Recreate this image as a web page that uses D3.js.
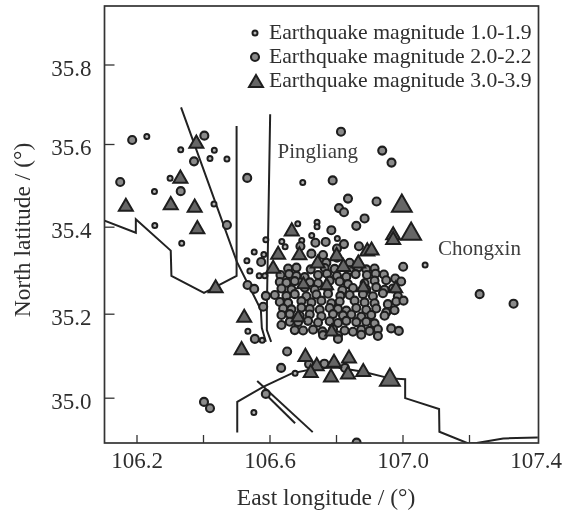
<!DOCTYPE html>
<html>
<head>
<meta charset="utf-8">
<style>
  html, body { margin: 0; padding: 0; background: #fff; }
  svg { display: block; filter: blur(0.45px); }
  text { font-family: "Liberation Serif", serif; fill: #2e2e2e; }
</style>
<script src="https://cdn.jsdelivr.net/npm/d3@7/dist/d3.min.js"></script>
</head>
<body>
<div id="chart"></div>
<script>
// Epicentres around Pingliang / Chongxin as [lon, lat]

const lonTicks = [106.2, 106.4, 106.6, 106.8, 107.0, 107.2, 107.4];
const lonLabels = [106.2, 106.6, 107.0, 107.4];
const latTicks = [35.0, 35.2, 35.4, 35.6, 35.8];

const legendLabels = [
  "Earthquake magnitude 1.0-1.9",
  "Earthquake magnitude 2.0-2.2",
  "Earthquake magnitude 3.0-3.9",
];

const smallQuakes = [
  [106.231, 35.619], [106.333, 35.586], [106.434, 35.585], [106.421, 35.565],
  [106.472, 35.564], [106.301, 35.517], [106.254, 35.485], [106.433, 35.455],
  [106.255, 35.403], [106.336, 35.362], [106.589, 35.370], [106.554, 35.342],
  [106.583, 35.336], [106.532, 35.322], [106.541, 35.298], [106.569, 35.287],
  [106.586, 35.287], [106.535, 35.158], [106.578, 35.137], [106.553, 34.965],
  [106.677, 35.058], [106.700, 35.507], [106.743, 35.411], [106.743, 35.400],
  [106.685, 35.407], [107.068, 35.312], [106.727, 35.380], [106.804, 35.373],
  [106.697, 35.368], [106.637, 35.366], [106.647, 35.354],
];

const mediumQuakes = [
  // scattered
  [106.187, 35.610], [106.404, 35.621], [106.373, 35.558], [106.151, 35.508],
  [106.333, 35.486], [106.472, 35.404], [106.533, 35.518], [106.575, 35.319],
  [106.534, 35.266], [106.554, 35.257], [106.589, 35.241], [106.581, 35.216],
  [106.556, 35.140], [106.653, 35.110], [106.635, 35.071], [106.589, 35.009],
  [106.719, 35.080], [106.765, 35.081], [106.827, 35.071], [106.403, 34.990],
  [106.421, 34.975], [106.862, 34.893], [106.790, 35.512], [106.836, 35.468],
  [106.809, 35.445], [106.824, 35.435], [106.922, 35.461], [106.886, 35.420],
  [106.861, 35.402], [106.786, 35.392], [106.815, 35.631], [106.939, 35.584],
  [106.967, 35.555], [107.232, 35.245], [107.334, 35.223], [107.002, 35.308],
  [106.636, 35.173],
  // main cluster
  [106.738, 35.363], [106.769, 35.365], [106.824, 35.360], [106.869, 35.355],
  [106.693, 35.355], [106.726, 35.338], [106.761, 35.335], [106.803, 35.350],
  [106.803, 35.329], [106.841, 35.317], [106.771, 35.317],
  [106.656, 35.304], [106.681, 35.306], [106.724, 35.302], [106.766, 35.305],
  [106.796, 35.303], [106.841, 35.300], [106.866, 35.306], [106.891, 35.302],
  [106.916, 35.304],
  [106.633, 35.289], [106.659, 35.291], [106.681, 35.287], [106.706, 35.284],
  [106.746, 35.289], [106.773, 35.292], [106.803, 35.287], [106.831, 35.285],
  [106.859, 35.291], [106.893, 35.289], [106.919, 35.292], [106.944, 35.290],
  [106.631, 35.273], [106.651, 35.271], [106.676, 35.275], [106.721, 35.272],
  [106.746, 35.270], [106.781, 35.276], [106.811, 35.274], [106.836, 35.268],
  [106.886, 35.270], [106.916, 35.276], [106.951, 35.277], [106.978, 35.281],
  [106.996, 35.274],
  [106.636, 35.258], [106.666, 35.256], [106.706, 35.260], [106.736, 35.255],
  [106.776, 35.258], [106.819, 35.254], [106.851, 35.259], [106.891, 35.256],
  [106.921, 35.261], [106.946, 35.255], [106.971, 35.258],
  [106.616, 35.243], [106.651, 35.241], [106.676, 35.245], [106.711, 35.240],
  [106.741, 35.244], [106.776, 35.246], [106.813, 35.241], [106.841, 35.243],
  [106.881, 35.245], [106.911, 35.240], [106.941, 35.247], [106.986, 35.240],
  [106.631, 35.227], [106.656, 35.225], [106.696, 35.229], [106.726, 35.226],
  [106.756, 35.230], [106.786, 35.224], [106.811, 35.228], [106.856, 35.230],
  [106.886, 35.226], [106.916, 35.224], [106.956, 35.222], [106.981, 35.228],
  [107.003, 35.230],
  [106.641, 35.212], [106.666, 35.210], [106.696, 35.214], [106.721, 35.211],
  [106.751, 35.209], [106.781, 35.213], [106.806, 35.211], [106.831, 35.207],
  [106.861, 35.213], [106.891, 35.209], [106.921, 35.212], [106.951, 35.203],
  [106.976, 35.208],
  [106.636, 35.197], [106.661, 35.199], [106.691, 35.195], [106.721, 35.198],
  [106.756, 35.194], [106.791, 35.199], [106.821, 35.196], [106.846, 35.198],
  [106.876, 35.193], [106.906, 35.197], [106.946, 35.195],
  [106.661, 35.181], [106.686, 35.180], [106.716, 35.183], [106.746, 35.179],
  [106.781, 35.182], [106.806, 35.178], [106.831, 35.183], [106.861, 35.180],
  [106.891, 35.181], [106.916, 35.177],
  [106.676, 35.161], [106.701, 35.160], [106.731, 35.162], [106.759, 35.158],
  [106.791, 35.163], [106.826, 35.160], [106.851, 35.157], [106.876, 35.162],
  [106.901, 35.159], [106.926, 35.163], [106.966, 35.165], [106.989, 35.159],
  [106.761, 35.149], [106.806, 35.148], [106.876, 35.150], [106.926, 35.147],
  [106.806, 35.140],
];

// third value is the magnitude
const largeQuakes = [
  [106.380, 35.606, 3.2], [106.332, 35.521, 3.2], [106.168, 35.453, 3.2],
  [106.303, 35.457, 3.2], [106.375, 35.451, 3.2], [106.383, 35.399, 3.2],
  [106.438, 35.263, 3.2], [106.524, 35.195, 3.2], [106.516, 35.118, 3.2],
  [106.708, 35.102, 3.2], [106.742, 35.080, 3.2], [106.794, 35.088, 3.2],
  [106.839, 35.098, 3.2], [106.724, 35.064, 3.2], [106.785, 35.053, 3.2],
  [106.836, 35.060, 3.2], [106.882, 35.066, 3.2], [106.962, 35.049, 3.9],
  [106.998, 35.457, 3.9], [107.026, 35.390, 3.9], [106.972, 35.385, 3.2],
  [106.972, 35.374, 3.2], [106.667, 35.394, 3.2], [106.626, 35.340, 3.2],
  [106.690, 35.339, 3.2], [106.611, 35.308, 3.2], [106.745, 35.320, 3.2],
  [106.802, 35.337, 3.2], [106.822, 35.312, 3.2], [106.867, 35.320, 3.2],
  [106.894, 35.348, 3.2], [106.907, 35.350, 3.2], [106.702, 35.271, 3.0],
  [106.772, 35.269, 3.0], [106.882, 35.264, 3.0], [106.980, 35.262, 3.0],
  [106.686, 35.195, 3.0], [106.787, 35.161, 3.0],
];

// ── Faults and boundaries ──
const westBoundary = [
  [106.102, 35.415], [106.198, 35.386], [106.198, 35.418], [106.303, 35.345],
  [106.305, 35.287], [106.403, 35.248], [106.501, 35.287], [106.501, 35.645],
];
const northSouthLine = [
  [106.602, 35.675], [106.592, 35.209], [106.592, 35.161], [106.605, 35.133],
];
const slantedFault = [
  [106.334, 35.692], [106.502, 35.319], [106.574, 35.209], [106.577, 35.166],
  [106.589, 35.133],
];
const southBoundary = [
  [106.503, 34.917], [106.503, 34.990], [106.581, 35.026], [106.667, 35.058],
  [106.742, 35.070], [106.802, 35.072], [106.882, 35.062], [106.962, 35.046],
  [107.008, 35.044], [107.008, 34.999], [107.110, 34.973], [107.111, 34.919],
  [107.198, 34.891], [107.223, 34.892], [107.303, 34.903], [107.407, 34.905],
];
const shortFaultA = [[106.563, 35.040], [106.730, 34.918]];
const shortFaultB = [[106.586, 35.010], [106.677, 34.939]];

const placeNames = [
  { name: "Pingliang", lon: 106.624, lat: 35.565 },
  { name: "Chongxin", lon: 107.107, lat: 35.334 },
];

// ── Frame ──
const width = 562, height = 514;
const frame = { left: 104.5, right: 538.5, top: 6, bottom: 443 };
const ink = "#333";

const svg = d3.select("#chart").append("svg")
  .attr("width", width)
  .attr("height", height)
  .attr("viewBox", [0, 0, width, height]);

const x = d3.scaleLinear().domain([106.2, 107.4]).range([136.5, 535.5]);
// the printed latitude ticks are not evenly spaced, hence one segment per tick
const y = d3.scaleLinear().domain(latTicks).range([397.7, 313.7, 226.7, 144, 64.5]);

svg.append("clipPath").attr("id", "plot")
  .append("rect")
  .attr("x", frame.left).attr("y", frame.top)
  .attr("width", frame.right - frame.left)
  .attr("height", frame.bottom - frame.top);

const plot = svg.append("g").attr("clip-path", "url(#plot)");

// ── Lines ──
const line = d3.line().x(d => x(d[0])).y(d => y(d[1]));
plot.append("g")
  .selectAll("path")
  .data([westBoundary, northSouthLine, slantedFault, southBoundary, shortFaultA, shortFaultB])
  .join("path")
  .attr("d", line)
  .attr("fill", "none")
  .attr("stroke", "#222")
  .attr("stroke-width", 2);

// ── Markers ──
function drawCircles(parent, data, r, fill, sw) {
  parent.append("g")
    .selectAll("circle")
    .data(data)
    .join("circle")
    .attr("cx", d => x(d[0]))
    .attr("cy", d => y(d[1]))
    .attr("r", r)
    .attr("fill", fill)
    .attr("stroke", "#1e1e1e")
    .attr("stroke-width", sw);
}

drawCircles(plot, smallQuakes, 2.5, "#b5b5b5", 2);
drawCircles(plot, mediumQuakes, 4, "#8a8a8a", 2.1);

// symbol area by magnitude; triangles are centred on their box, not their centroid
const triangleArea = d3.scaleLinear().domain([3.0, 3.2, 3.9]).range([70, 85, 170]);
const triangle = d3.symbol().type(d3.symbolTriangle);
const triHeight = m => Math.sqrt(triangleArea(m) * Math.sqrt(3));

plot.append("g")
  .selectAll("path")
  .data(largeQuakes)
  .join("path")
  .attr("d", d => triangle.size(triangleArea(d[2]))())
  .attr("transform", d => `translate(${x(d[0])},${y(d[1]) + triHeight(d[2]) / 6})`)
  .attr("fill", "#666")
  .attr("stroke", "#1e1e1e")
  .attr("stroke-width", 2);

// ── Axes ──
const xAxis = d3.axisBottom(x)
  .tickValues(lonTicks)
  .tickSize(-8)
  .tickPadding(9)
  .tickFormat(d => lonLabels.includes(d) ? d3.format(".1f")(d) : "");
const yAxis = d3.axisLeft(y)
  .tickValues(latTicks)
  .tickSize(-10)
  .tickPadding(13)
  .tickFormat(d3.format(".1f"));

const xG = svg.append("g").attr("transform", `translate(0,${frame.bottom})`).call(xAxis);
const yG = svg.append("g").attr("transform", `translate(${frame.left},0)`).call(yAxis);
[xG, yG].forEach(g => {
  g.select(".domain").remove();
  g.selectAll("line").attr("stroke", ink).attr("stroke-width", 1.3);
  g.selectAll("text").attr("font-size", 23).style("fill", "#2e2e2e");
});
yG.selectAll("text").attr("dy", "0.47em");
// no tick mark at the right edge, only its label
xG.selectAll(".tick").filter(d => d === 107.4).select("line").remove();

svg.append("rect")
  .attr("x", frame.left).attr("y", frame.top)
  .attr("width", frame.right - frame.left)
  .attr("height", frame.bottom - frame.top)
  .attr("fill", "none")
  .attr("stroke", ink)
  .attr("stroke-width", 1.7);

svg.append("text")
  .attr("x", 326).attr("y", 505)
  .attr("text-anchor", "middle")
  .attr("font-size", 23.5)
  .text("East longitude / (°)");

svg.append("text")
  .attr("transform", "translate(30,230) rotate(-90)")
  .attr("text-anchor", "middle")
  .attr("font-size", 23.5)
  .text("North latitude / (°)");

// ── Place names ──
svg.append("g")
  .selectAll("text")
  .data(placeNames)
  .join("text")
  .attr("x", d => x(d.lon))
  .attr("y", d => y(d.lat))
  .attr("font-size", 21)
  .style("fill", "#3c3c3c")
  .text(d => d.name);

// ── Legend ──
const legend = svg.append("g");
const legendY = d3.scalePoint().domain(legendLabels).range([33, 81]);

legend.selectAll("text")
  .data(legendLabels)
  .join("text")
  .attr("x", 269)
  .attr("y", d => legendY(d) + 6)
  .attr("font-size", 21.7)
  .text(d => d);

legend.append("circle").attr("cx", 255).attr("cy", legendY(legendLabels[0]))
  .attr("r", 2.5).attr("fill", "#b5b5b5").attr("stroke", "#1e1e1e").attr("stroke-width", 2);
legend.append("circle").attr("cx", 255).attr("cy", legendY(legendLabels[1]))
  .attr("r", 4).attr("fill", "#8a8a8a").attr("stroke", "#1e1e1e").attr("stroke-width", 2.1);
legend.append("path")
  .attr("d", triangle.size(85)())
  .attr("transform", `translate(256,${legendY(legendLabels[2]) + 2})`)
  .attr("fill", "#666").attr("stroke", "#1e1e1e").attr("stroke-width", 2);
</script>
</body>
</html>
